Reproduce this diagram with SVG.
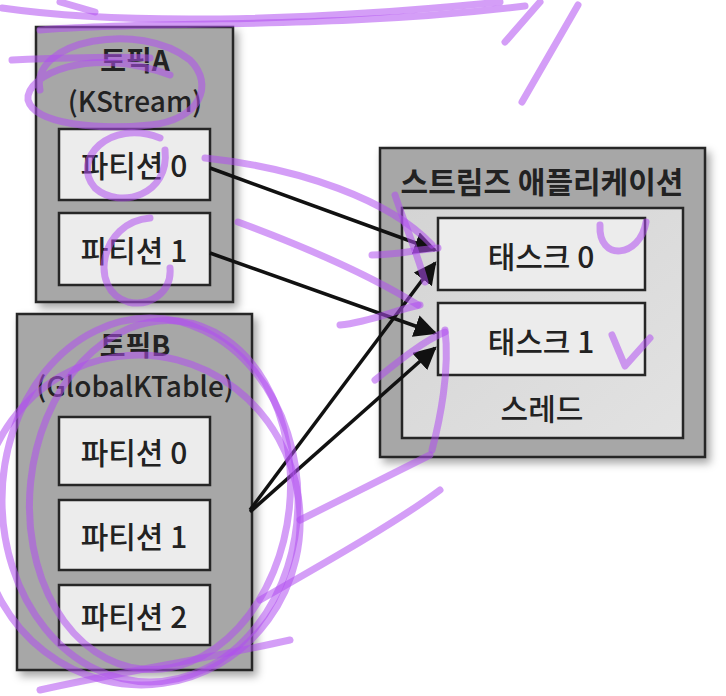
<svg xmlns="http://www.w3.org/2000/svg" width="726" height="696" viewBox="0 0 726 696">
<defs>
<style>
.outer{fill:#a7a7a7;stroke:#262626;stroke-width:2.5}
.part{fill:#ececec;stroke:#262626;stroke-width:2.5}
.thread{fill:url(#tg);stroke:#262626;stroke-width:2.5}
.t{font-family:"Noto Sans CJK KR","Liberation Sans",sans-serif;font-size:30px;font-weight:500;fill:#222;text-anchor:middle;dominant-baseline:central}
.h{font-size:28px}
.b{font-weight:bold}
.conn{stroke:#111;stroke-width:3.5;fill:none;marker-end:url(#ah)}
.scr{fill:none;stroke:#b04ef0;stroke-opacity:0.55;stroke-width:7;stroke-linecap:round;stroke-linejoin:round}
</style>
<linearGradient id="tg" x1="0" y1="0" x2="1" y2="1">
<stop offset="0" stop-color="#d4d4d4"/><stop offset="1" stop-color="#e2e2e2"/>
</linearGradient>
<filter id="sh" x="-10%" y="-10%" width="125%" height="125%">
<feDropShadow dx="4" dy="5" stdDeviation="4" flood-color="#000" flood-opacity="0.35"/>
</filter>
<marker id="ah" viewBox="0 0 10 10" refX="9" refY="5" markerWidth="6.5" markerHeight="6.5" markerUnits="strokeWidth" orient="auto">
<path d="M0,0 L10,5 L0,10 Z" fill="#111"/>
</marker>
</defs>
<rect width="726" height="696" fill="#fff"/>

<g id="topicA">
<rect class="outer" x="36" y="27" width="197" height="275" filter="url(#sh)"/>
<text class="t h b" x="135" y="59">토픽A</text>
<text class="t h" x="135" y="100">(KStream)</text>
</g>
<g id="topicA-p0"><rect class="part" x="59" y="129" width="151" height="71"/><text class="t" x="134" y="164">파티션 0</text></g>
<g id="topicA-p1"><rect class="part" x="59" y="213" width="151" height="72"/><text class="t" x="134" y="249">파티션 1</text></g>

<g id="topicB">
<rect class="outer" x="17" y="314" width="235" height="356" filter="url(#sh)"/>
<text class="t h b" x="135" y="344">토픽B</text>
<text class="t h" x="135" y="385">(GlobalKTable)</text>
</g>
<g id="topicB-p0"><rect class="part" x="59" y="417" width="151" height="68"/><text class="t" x="134" y="451">파티션 0</text></g>
<g id="topicB-p1"><rect class="part" x="59" y="500" width="151" height="70"/><text class="t" x="134" y="535">파티션 1</text></g>
<g id="topicB-p2"><rect class="part" x="59" y="585" width="151" height="60"/><text class="t" x="134" y="615">파티션 2</text></g>

<g id="app">
<rect class="outer" x="380" y="148" width="325" height="309" filter="url(#sh)"/>
<text class="t b" x="542" y="180">스트림즈 애플리케이션</text>
</g>
<g id="thread">
<rect class="thread" x="402" y="208" width="281" height="230"/>
<text class="t" x="542" y="407">스레드</text>
</g>
<g id="task0"><rect class="part" x="438" y="218" width="207" height="72"/><text class="t" x="541" y="255">태스크 0</text></g>
<g id="task1"><rect class="part" x="438" y="303" width="207" height="72"/><text class="t" x="541" y="340">태스크 1</text></g>

<g id="connectors">
<line class="conn" x1="210" y1="168" x2="435" y2="250"/>
<line class="conn" x1="210" y1="253" x2="435" y2="333"/>
<line class="conn" x1="250" y1="510" x2="435" y2="263"/>
<line class="conn" x1="250" y1="512" x2="435" y2="348"/>
</g>

<g id="annotations">
<path class="scr" d="M 2 8 C 120 25, 300 22, 500 2"/>
<path class="scr" d="M 40 30 C 160 20, 330 30, 525 6"/>
<path class="scr" d="M 60 2 L 95 12"/>
<path class="scr" d="M 505 42 L 540 2"/>
<path class="scr" d="M 522 102 L 578 5"/>
<path class="scr" d="M 12 60 C 60 58, 110 56, 150 58"/>
<path class="scr" d="M 40 90 C 30 40, 140 20, 190 60 C 215 85, 200 120, 150 125 C 100 130, 35 125, 28 100 C 25 75, 90 45, 170 75"/>
<path class="scr" d="M 160 138 C 110 118, 70 160, 95 188 C 120 210, 170 195, 165 150"/>
<path class="scr" d="M 150 218 C 100 222, 88 290, 128 302 C 150 307, 172 292, 170 268"/>
<path class="scr" d="M 205 158 C 300 168, 390 200, 432 245"/>
<path class="scr" d="M 238 222 C 300 245, 370 275, 418 305"/>
<path class="scr" d="M 340 325 C 370 322, 395 310, 420 305"/>
<path class="scr" d="M 395 195 C 405 225, 418 255, 425 282"/>
<path class="scr" d="M 372 255 C 395 255, 415 250, 438 248"/>
<path class="scr" d="M 375 380 C 400 360, 425 340, 445 332"/>
<path class="scr" d="M 445 330 C 450 370, 440 420, 432 450"/>
<path class="scr" d="M 300 520 C 340 500, 400 470, 430 455"/>
<path class="scr" d="M 260 600 C 330 560, 400 520, 440 490"/>
<path class="scr" d="M 600 225 C 598 262, 640 258, 646 222"/>
<path class="scr" d="M 612 335 L 625 366 L 650 338"/>
<ellipse class="scr" cx="150" cy="500" rx="148" ry="182"/>
<ellipse class="scr" cx="140" cy="520" rx="160" ry="165" transform="rotate(-8 140 520)"/>
<ellipse class="scr" cx="160" cy="495" rx="130" ry="175" transform="rotate(6 160 495)"/>
<path class="scr" d="M 40 690 C 120 672, 200 660, 290 640"/>
</g>
</svg>
